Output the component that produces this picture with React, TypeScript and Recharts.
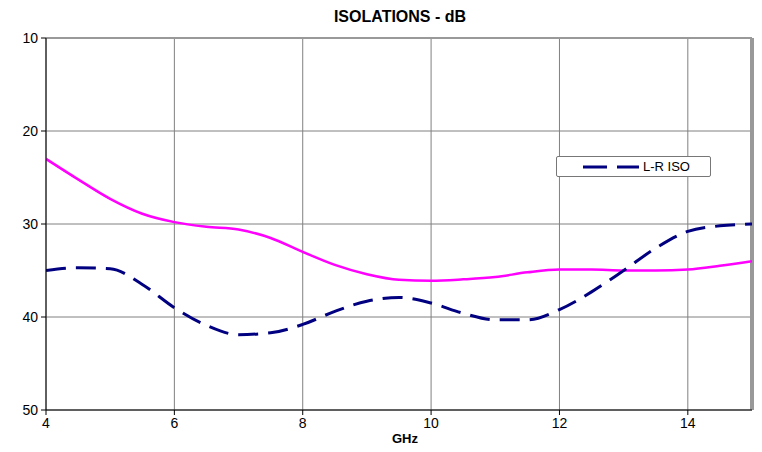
import {
  LineChart, Line, XAxis, YAxis, CartesianGrid, ReferenceLine,
} from 'recharts';

// frequency points (GHz)
const FREQ = [4, 4.5, 5, 5.5, 6, 6.5, 7, 7.5, 8, 8.5, 9, 9.5, 10, 10.5, 11, 11.5, 12, 12.5, 13, 13.5, 14, 14.5, 15];
// magenta trace (no legend entry)
const ISO_A = [23, 25.2, 27.3, 28.9, 29.8, 30.3, 30.6, 31.5, 33, 34.4, 35.4, 36, 36.1, 35.95, 35.7, 35.2, 34.9, 34.9, 35, 35, 34.9, 34.5, 34];
// L-R ISO dashed trace
const ISO_LR = [35, 34.7, 34.8, 36.5, 39, 40.9, 41.9, 41.7, 40.8, 39.4, 38.3, 37.9, 38.5, 39.6, 40.3, 40.3, 39.2, 37.3, 35, 32.6, 30.8, 30.2, 30];

const X_TICKS = [4, 6, 8, 10, 12, 14];
const Y_TICKS = [10, 20, 30, 40, 50];

const data = FREQ.map((f, i) => ({ f, a: ISO_A[i], lr: ISO_LR[i] }));

const FONT = 'Arial, "Liberation Sans", sans-serif';

function LegendBox() {
  return (
    <div
      style={{
        position: 'absolute', left: 556, top: 156,
        width: 153, height: 19, background: '#fff', border: '1px solid #777',
        borderRadius: 2, display: 'flex', alignItems: 'center', fontFamily: FONT, fontSize: 13,
      }}
    >
      <svg width={60} height={10} style={{ marginLeft: 26 }}>
        <line x1={0} y1={5} x2={56} y2={5} stroke="#000080" strokeWidth={3} strokeDasharray="24 10" />
      </svg>
      <span>L-R ISO</span>
    </div>
  );
}

export default function App() {
  return (
    <div style={{ position: 'absolute', left: 0, top: 0, width: 762, height: 452, background: '#fff' }}>
      <div
        style={{
          position: 'absolute', left: 0, width: 800, top: 8, textAlign: 'center',
          fontFamily: FONT, fontWeight: 'bold', fontSize: 16,
        }}
      >
        ISOLATIONS - dB
      </div>
      <LineChart width={762} height={452} data={data} margin={{ top: 38, right: 10, bottom: 0, left: 0 }}>
        <CartesianGrid stroke="#808080" strokeWidth={1} horizontalValues={Y_TICKS} verticalValues={X_TICKS} />
        <XAxis
          dataKey="f"
          type="number"
          domain={[4, 15]}
          ticks={X_TICKS}
          height={42}
          tick={{ fontSize: 14, fill: '#000', fontFamily: FONT }}
          tickSize={5}
          tickMargin={3}
          axisLine={{ stroke: '#000' }}
          tickLine={{ stroke: '#000' }}
          allowDataOverflow
        />
        <YAxis
          type="number"
          domain={[10, 50]}
          reversed
          ticks={Y_TICKS}
          width={46}
          tick={{ fontSize: 14, fill: '#000', fontFamily: FONT }}
          tickSize={5}
          tickMargin={3}
          axisLine={{ stroke: '#000' }}
          tickLine={{ stroke: '#000' }}
        />
        <ReferenceLine y={10} stroke="#999" strokeWidth={2} />
        <ReferenceLine x={15} stroke="#999" strokeWidth={4} />
        <Line
          type="monotone"
          dataKey="a"
          stroke="#ff00ff"
          strokeWidth={2.5}
          dot={false}
          isAnimationActive={false}
          legendType="none"
        />
        <Line
          type="monotone"
          dataKey="lr"
          name="L-R ISO"
          stroke="#000080"
          strokeWidth={3}
          strokeDasharray="20 10"
          dot={false}
          isAnimationActive={false}
        />
      </LineChart>
      <LegendBox />
      <div
        style={{
          position: 'absolute', left: 392, top: 431, fontFamily: FONT,
          fontWeight: 'bold', fontSize: 13,
        }}
      >
        GHz
      </div>
    </div>
  );
}
